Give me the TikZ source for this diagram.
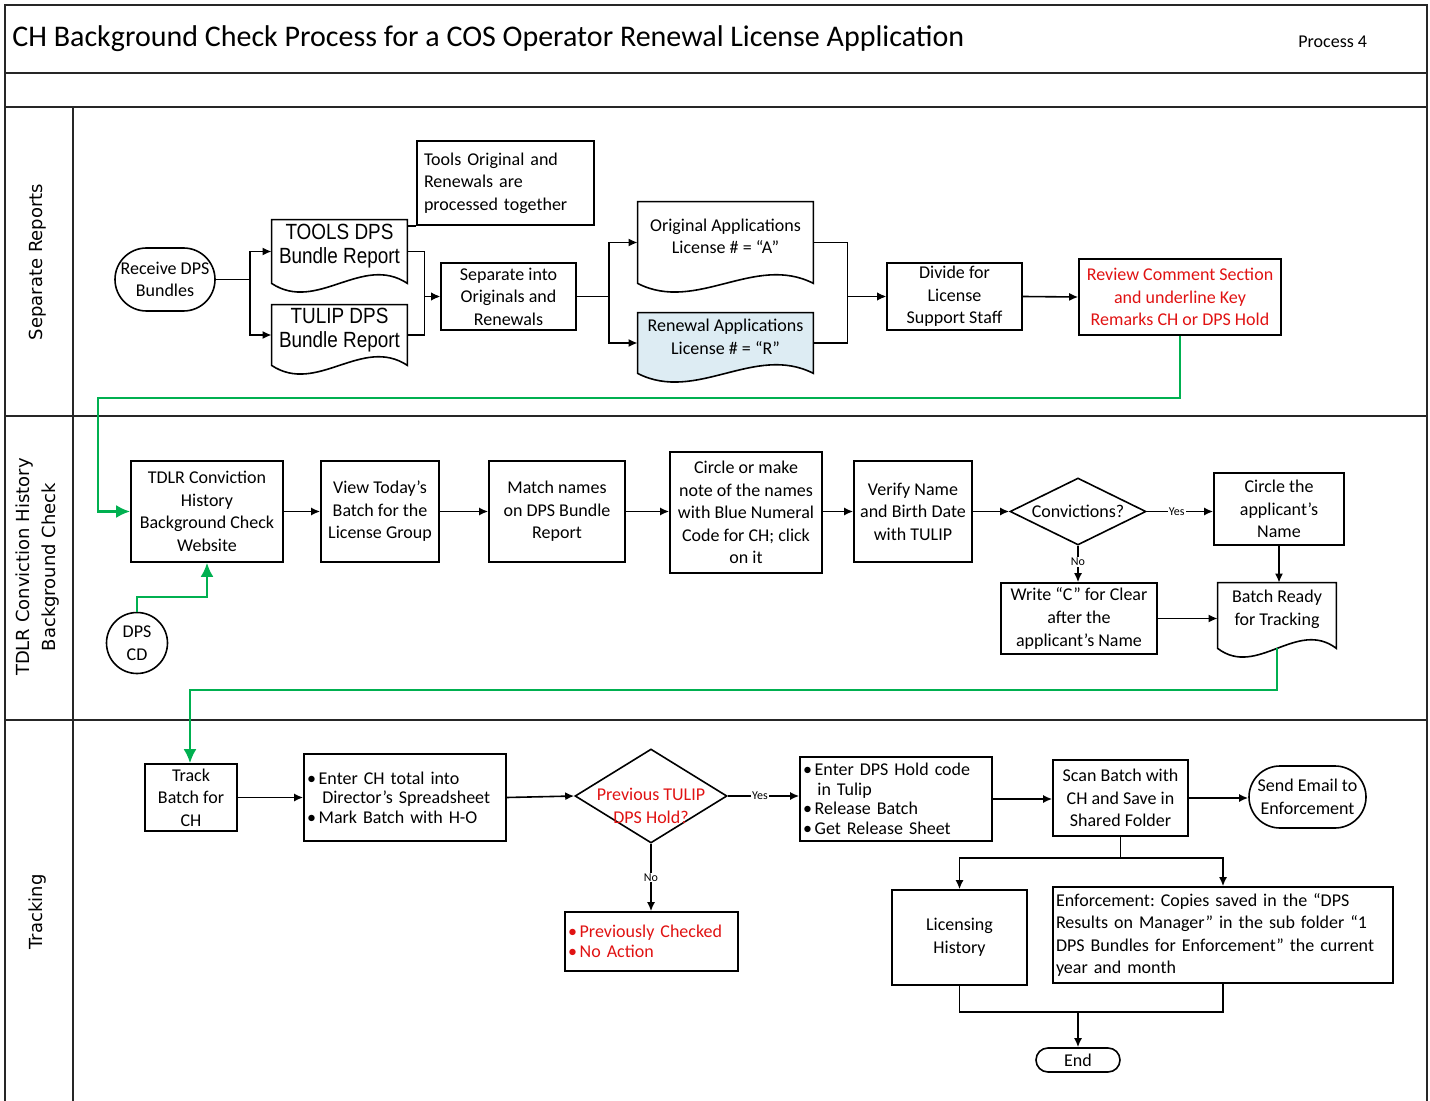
\documentclass[tikz,border=0pt]{standalone}
\usepackage{fontspec}
\setmainfont{Carlito}
\newfontfamily\lanefont{DejaVu Sans}
\newfontfamily\narrowfont[FakeStretch=0.86]{Liberation Sans}
\usetikzlibrary{shapes.geometric,shapes.misc,arrows.meta,calc}
\pgfdeclarelayer{bg}
\pgfsetlayers{bg,main}
\frenchspacing

\definecolor{redtext}{RGB}{224,18,18}
\definecolor{paleblue}{RGB}{221,236,243}
\definecolor{flowgreen}{RGB}{0,176,80}

% bullet with a fixed gap before the item text
\newcommand\bul{\makebox[0.65em][l]{\textbullet}}

% outline of a document symbol (wavy lower edge) around a node
\newcommand\docout[2][white]{%
  \begin{pgfonlayer}{bg}
  \draw[line width=0.8pt, fill=#1] (#2.north west) -- (#2.north east) -- (#2.south east)
    .. controls ($(#2.south east)!0.333!(#2.south west)+(0,-30)$)
       and ($(#2.south east)!0.667!(#2.south west)+(0,30)$) .. (#2.south west) -- cycle;
  \end{pgfonlayer}}

\begin{document}
\begin{tikzpicture}[
  x=0.5pt, y=-0.5pt,
  sz/.style 2 args={minimum width=#1*0.5pt, minimum height=#2*0.5pt},
  bodyfont/.style={font=\fontsize{9}{11.3}\selectfont},
  box/.style={draw, line width=0.8pt, rectangle, inner sep=1pt, align=center, bodyfont},
  listbox/.style={box, align=left, inner xsep=1.5pt, font=\fontsize{9}{9.8}\selectfont},
  term/.style={draw, line width=0.8pt, rounded rectangle, inner sep=0pt, align=center, bodyfont},
  docnode/.style={rectangle, draw=none, inner sep=0pt},
  doclab/.style={align=center, yshift=3pt, bodyfont},
  tlab/.style={align=center, yshift=2.5pt, font=\narrowfont\fontsize{11}{12}\selectfont},
  diam/.style={draw, line width=0.8pt, diamond, inner sep=0pt},
  frame/.style={line width=0.9pt, black!85},
  arr/.style={line width=0.8pt, -{Latex[length=4.5pt,width=4pt]}},
  garr/.style={draw=flowgreen, line width=1.25pt, -{Latex[length=7pt,width=6.5pt]}},
  tag/.style={fill=white, inner sep=0.5pt, font=\fontsize{6}{7}\selectfont},
  lanelab/.style={rotate=90, align=center, font=\lanefont\fontsize{9}{13}\selectfont}
]
\useasboundingbox (0,0) rectangle (1430,1101);

% ---- frame, title band and swimlanes ----
\draw[frame] (5,1101) -- (5,5) -- (1427,5) -- (1427,1101);
\draw[frame] (5,73) -- (1427,73);
\draw[frame] (5,107) -- (1427,107);
\draw[frame] (5,416) -- (1427,416);
\draw[frame] (5,720) -- (1427,720);
\draw[frame] (73,107) -- (73,1101);

\node[anchor=west, inner sep=0pt, font=\fontsize{15}{17}\selectfont] (title) at (12,39)
  {CH Background Check Process for a COS Operator Renewal License Application};
\node[anchor=west, inner sep=0pt, font=\fontsize{9}{11}\selectfont] (proc) at (1298,42) {Process 4};

\node[lanelab] (lane1) at (38,262) {Separate Reports};
\node[lanelab] (lane2) at (38,567) {TDLR Conviction History\\Background Check};
\node[lanelab] (lane3) at (38,912) {Tracking};

% ---- lane 1: separate reports ----
\node[term, sz={100}{63}] (recv) at (165,279.5) {Receive DPS\\Bundles};
\node[docnode, sz={135}{63}, label={[tlab]center:{TOOLS DPS\\Bundle Report}}] (tools) at (339.5,251.5) {};
\docout{tools}
\node[docnode, sz={135}{60}, label={[tlab]center:{TULIP DPS\\Bundle Report}}] (tulip) at (339.5,335) {};
\docout{tulip}
\node[box, align=left, text width=81.5pt, inner xsep=3.5pt, inner ysep=0pt, sz={177}{84}] (note) at (505.5,183)
  {Tools Original and\\Renewals are\\processed together};
\node[box, sz={135}{67}] (sep) at (508.5,296.5) {Separate into\\Originals and\\Renewals};
\node[docnode, sz={175}{81}, label={[doclab]center:{Original Applications\\License \# = “A”}}] (orig) at (725.5,242.5) {};
\docout{orig}
\node[docnode, sz={175}{60}, label={[doclab]center:{Renewal Applications\\License \# = “R”}}] (ren) at (725.5,343) {};
\docout[paleblue]{ren}
\node[box, sz={135}{67}] (div) at (954.5,296.5) {Divide for\\License\\Support Staff};
\node[box, sz={202}{76}, text=redtext] (rev) at (1180,297) {Review Comment Section\\and underline Key\\Remarks CH or DPS Hold};

\draw[line width=0.8pt] (note.south west) -- (note.south west -| tools.east);
\draw[arr] (recv.east) -- ++(34,0) |- (tools.west);
\draw[arr] (recv.east) -- ++(34,0) |- (tulip.west);
\draw[arr] (tools.east) -- ++(17,0) |- (sep.west);
\draw[arr] (tulip.east) -- ++(17,0) |- (sep.west);
\draw[arr] (sep.east) -- ++(32,0) |- (orig.west);
\draw[arr] (sep.east) -- ++(32,0) |- (ren.west);
\draw[arr] (orig.east) -- ++(34,0) |- (div.west);
\draw[arr] (ren.east) -- ++(34,0) |- (div.west);
\draw[arr] (div.east) -- (rev.west);

% ---- lane 2: TDLR conviction history background check ----
\node[box, sz={152}{101}] (tdlr) at (207,511.5) {TDLR Conviction\\History\\Background Check\\Website};
\node[box, sz={118}{101}] (view) at (380,511.5) {View Today’s\\Batch for the\\License Group};
\node[box, sz={136}{101}] (match) at (557,511.5) {Match names\\on DPS Bundle\\Report};
\node[box, sz={152}{121}] (circ) at (746,512.5) {Circle or make\\note of the names\\with Blue Numeral\\Code for CH; click\\on it};
\node[box, sz={118}{101}] (verify) at (913,511.5) {Verify Name\\and Birth Date\\with TULIP};
\node[diam, sz={136}{67}, label={[bodyfont]center:Convictions?}] (conv) at (1078,511.5) {};
\node[box, sz={130}{72}] (circname) at (1279,509) {Circle the\\applicant’s\\Name};
\node[box, sz={156}{71}] (writec) at (1079,618.5) {Write “C” for Clear\\after the\\applicant’s Name};
\node[docnode, sz={118}{65}, label={[doclab]center:{Batch Ready\\for Tracking}}] (batch) at (1277,615.5) {};
\docout{batch}
\node[draw, line width=0.8pt, circle, minimum size=30.5pt, inner sep=0pt, align=center, bodyfont] (dpscd) at (137,643) {DPS\\CD};

\draw[arr] (tdlr.east) -- (view.west);
\draw[arr] (view.east) -- (match.west);
\draw[arr] (match.east) -- (circ.west |- match.east);
\draw[arr] (circ.east |- verify.west) -- (verify.west);
\draw[arr] (verify.east) -- (conv.west);
\draw[arr] (conv.east) -- (conv.east -| circname.west) node[tag, pos=0.45] {Yes};
\draw[arr] (conv.south) -- (conv.south |- writec.north) node[tag, pos=0.45] {No};
\draw[arr] (circname.south) -- (circname.south |- batch.north);
\draw[arr] (writec.east) -- (writec.east -| batch.west);

% ---- lane 3: tracking ----
\node[box, sz={92}{67}] (track) at (191,797.5) {Track\\Batch for\\CH};
\node[listbox, text width=98pt, sz={202}{87}] (enterch) at (405,797.5)
  {\bul Enter CH total into\\\hspace*{0.85em}Director’s Spreadsheet\\\bul Mark Batch with H-O};
\node[diam, sz={152}{94}, label={[align=center, text=redtext, yshift=-5pt, bodyfont]center:{Previous TULIP\\DPS Hold?}}] (prevd) at (651,796) {};
\node[listbox, text width=83.5pt, sz={173}{59}, text=redtext] (prevchk) at (651.5,941.5)
  {\bul Previously Checked\\\bul No Action};
\node[listbox, text width=93pt, sz={192}{84}] (hold) at (896,799)
  {\bul Enter DPS Hold code\\\hspace*{0.8em}in Tulip\\\bul Release Batch\\\bul Get Release Sheet};
\node[box, sz={135}{76}] (scan) at (1120.5,798) {Scan Batch with\\CH and Save in\\Shared Folder};
\node[term, sz={117}{62}] (email) at (1307.5,797) {Send Email to\\Enforcement};
\node[box, sz={135}{95}] (lic) at (959.5,937.5) {Licensing\\History};
\node[box, align=left, text width=167pt, inner xsep=1.5pt, sz={340}{96}] (enf) at (1223,935)
  {Enforcement: Copies saved in the “DPS\\Results on Manager” in the sub folder “1\\DPS Bundles for Enforcement” the current\\year and month};
\node[term, sz={84}{24}] (endn) at (1078,1060) {End};

\draw[arr] (track.east) -- (enterch.west);
\draw[arr] (enterch.east) -- (prevd.west);
\draw[arr] (prevd.east) -- (prevd.east -| hold.west) node[tag, pos=0.45] {Yes};
\draw[arr] (prevd.south) -- (prevd.south |- prevchk.north) node[tag, pos=0.5] {No};
\draw[arr] (hold.east) -- (hold.east -| scan.west);
\draw[arr] (scan.east) -- (scan.east -| email.west);
\draw[arr] (scan.south) -- ++(0,21) -| (lic.north);
\draw[arr] (scan.south) -- ++(0,21) -| (enf.north);
\coordinate (merge) at (1078,1012);
\draw[line width=0.8pt] (lic.south) |- (merge);
\draw[line width=0.8pt] (enf.south) |- (merge);
\draw[arr] (merge) -- (endn.north);

% ---- green hand-off connectors between lanes ----
\coordinate (g1) at (98,398);
\draw[garr] (rev.south) |- (g1) |- (tdlr.west);
\coordinate (g2) at (207,597);
\draw[garr] (dpscd.north) |- (g2) -- (tdlr.south);
\coordinate (g3) at (190,690);
\draw[garr] (batch.south) |- (g3) -- (g3 |- track.north);
\end{tikzpicture}
\end{document}
